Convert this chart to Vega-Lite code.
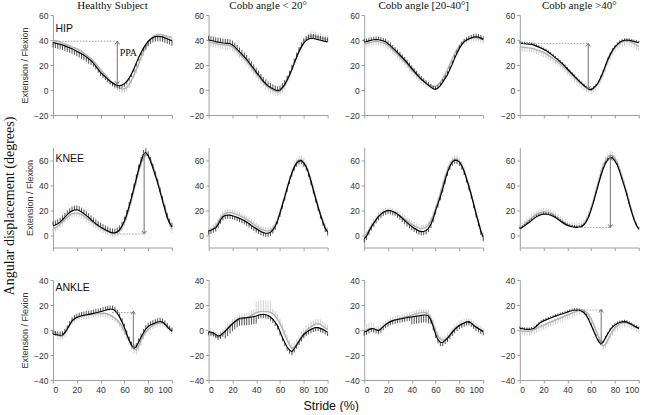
{
"$schema":"https://vega.github.io/schema/vega-lite/v6.json",
"padding":{"left":2,"right":0,"top":0,"bottom":0},
"background":"white",
"datasets":{
"lab":[
{"p":"H0","t":"HIP","lx":2,"ly":49,"f":"s"},
{"p":"H0","t":"PPA","lx":56,"ly":29.5,"f":"r"},
{"p":"K0","t":"KNEE","lx":2,"ly":61,"f":"s"},
{"p":"A0","t":"ANKLE","lx":2,"ly":34,"f":"s"}
],
"ann":[
{"p":"H0","xa":54,"top":39,"bot":4.5,"xd":0,"yd":39},
{"p":"H3","xa":57.5,"top":37.3,"bot":0.5,"xd":0,"yd":37.3},
{"p":"K0","xa":76.6,"top":66,"bot":0.8,"xd":49,"yd":0.8},
{"p":"K3","xa":76.1,"top":62,"bot":6,"xd":49,"yd":6},
{"p":"A0","xa":67.5,"top":15,"bot":-15,"xd":49.6,"yd":14},
{"p":"A3","xa":68.4,"top":16.5,"bot":-10.7,"xd":43.6,"yd":16}
],
"d":[
{"p":"H0","x":0,"b":38,"B":34,"g":40,"G":37},
{"p":"H0","x":2,"b":37.5,"B":33.5,"g":39.5,"G":36.5},
{"p":"H0","x":4,"b":37,"B":33,"g":39,"G":36},
{"p":"H0","x":6,"b":36.5,"B":32.5,"g":38.3,"G":35.3},
{"p":"H0","x":8,"b":36,"B":32,"g":37.5,"G":34.5},
{"p":"H0","x":10,"b":35.3,"B":31.3,"g":36.8,"G":33.8},
{"p":"H0","x":12,"b":34.5,"B":30.5,"g":36,"G":33},
{"p":"H0","x":14,"b":33.8,"B":29.8,"g":35.3,"G":32.3},
{"p":"H0","x":16,"b":33,"B":29,"g":34.5,"G":31.5},
{"p":"H0","x":18,"b":32,"B":28,"g":33.8,"G":30.8},
{"p":"H0","x":20,"b":31,"B":27,"g":33,"G":30},
{"p":"H0","x":22,"b":30,"B":26,"g":32,"G":29},
{"p":"H0","x":24,"b":29,"B":25,"g":31,"G":28},
{"p":"H0","x":26,"b":27.8,"B":23.8,"g":29.5,"G":26.5},
{"p":"H0","x":28,"b":26.5,"B":22.5,"g":28,"G":25},
{"p":"H0","x":30,"b":25,"B":21,"g":26.5,"G":23.5},
{"p":"H0","x":32,"b":23.5,"B":20,"g":25,"G":22},
{"p":"H0","x":34,"b":21.5,"B":18.5,"g":23,"G":20},
{"p":"H0","x":36,"b":19,"B":16.5,"g":21,"G":18},
{"p":"H0","x":38,"b":16.5,"B":14,"g":18.8,"G":15.8},
{"p":"H0","x":40,"b":14,"B":11.5,"g":16.5,"G":13.5},
{"p":"H0","x":42,"b":12.2,"B":9.7,"g":14.2,"G":11.2},
{"p":"H0","x":44,"b":10.5,"B":8,"g":12,"G":9},
{"p":"H0","x":46,"b":8.7,"B":6.2,"g":9.8,"G":6.8},
{"p":"H0","x":48,"b":7,"B":4.5,"g":7.5,"G":4.5},
{"p":"H0","x":50,"b":5.7,"B":3.2,"g":5.7,"G":2.7},
{"p":"H0","x":52,"b":4.5,"B":2,"g":4,"G":1},
{"p":"H0","x":54,"b":3.8,"B":1.3,"g":2.7,"G":-0.3},
{"p":"H0","x":56,"b":3.5,"B":1,"g":1.5,"G":-1.5},
{"p":"H0","x":58,"b":4,"B":1.5,"g":0.8,"G":-2.2},
{"p":"H0","x":60,"b":5,"B":2.5,"g":1,"G":-2},
{"p":"H0","x":62,"b":7,"B":4.5,"g":2,"G":-1},
{"p":"H0","x":64,"b":9.5,"B":7,"g":4.5,"G":1.5},
{"p":"H0","x":66,"b":13,"B":10.5,"g":8,"G":5},
{"p":"H0","x":68,"b":17,"B":14.5,"g":12,"G":9},
{"p":"H0","x":70,"b":21.5,"B":19,"g":16.5,"G":13.5},
{"p":"H0","x":72,"b":26,"B":23.5,"g":21,"G":18},
{"p":"H0","x":74,"b":30,"B":27.5,"g":26,"G":23},
{"p":"H0","x":76,"b":33.5,"B":31,"g":30.5,"G":27.5},
{"p":"H0","x":78,"b":36.5,"B":32.5,"g":34.5,"G":31.5},
{"p":"H0","x":80,"b":39,"B":35,"g":38,"G":35},
{"p":"H0","x":82,"b":40.8,"B":36.8,"g":40.5,"G":37.5},
{"p":"H0","x":84,"b":42,"B":38,"g":42.5,"G":39.5},
{"p":"H0","x":86,"b":42.7,"B":38.7,"g":43.8,"G":40.8},
{"p":"H0","x":88,"b":43,"B":39,"g":44.5,"G":41.5},
{"p":"H0","x":90,"b":42.8,"B":38.8,"g":44.5,"G":41.5},
{"p":"H0","x":92,"b":42.5,"B":38.5,"g":44,"G":41},
{"p":"H0","x":94,"b":41.8,"B":37.8,"g":43.5,"G":40.5},
{"p":"H0","x":96,"b":41,"B":37,"g":43,"G":40},
{"p":"H0","x":98,"b":40.2,"B":36.2,"g":42.5,"G":39.5},
{"p":"H0","x":100,"b":39.5,"B":35.5,"g":42,"G":39},
{"p":"H1","x":0,"b":40,"B":43.5,"g":38.5,"G":35},
{"p":"H1","x":2,"b":39.6,"B":43.1,"g":38,"G":34.5},
{"p":"H1","x":4,"b":39.2,"B":42.7,"g":37.6,"G":34.1},
{"p":"H1","x":6,"b":38.7,"B":42.2,"g":37.2,"G":33.7},
{"p":"H1","x":8,"b":38.3,"B":41.8,"g":36.8,"G":33.3},
{"p":"H1","x":10,"b":38,"B":41.5,"g":36.5,"G":33},
{"p":"H1","x":12,"b":37.6,"B":41.1,"g":36.2,"G":32.7},
{"p":"H1","x":14,"b":37.4,"B":40.9,"g":36,"G":32.5},
{"p":"H1","x":16,"b":37.3,"B":40.8,"g":35.8,"G":32.3},
{"p":"H1","x":18,"b":37,"B":40.5,"g":35.4,"G":31.9},
{"p":"H1","x":20,"b":36,"B":39.5,"g":34.5,"G":31},
{"p":"H1","x":22,"b":34.5,"B":38,"g":33,"G":29.5},
{"p":"H1","x":24,"b":32.5,"B":36,"g":31,"G":27.5},
{"p":"H1","x":26,"b":30.5,"B":34,"g":29,"G":25.5},
{"p":"H1","x":28,"b":28.5,"B":32,"g":27,"G":23.5},
{"p":"H1","x":30,"b":26.5,"B":30,"g":25,"G":21.5},
{"p":"H1","x":32,"b":24.5,"B":28,"g":23,"G":19.5},
{"p":"H1","x":34,"b":22,"B":25.5,"g":20.5,"G":17},
{"p":"H1","x":36,"b":19.5,"B":23,"g":18,"G":14.5},
{"p":"H1","x":38,"b":17,"B":20.5,"g":15.5,"G":12},
{"p":"H1","x":40,"b":14.3,"B":17.8,"g":13,"G":9.5},
{"p":"H1","x":42,"b":12,"B":15.5,"g":10.7,"G":7.2},
{"p":"H1","x":44,"b":9.5,"B":13,"g":8.3,"G":4.8},
{"p":"H1","x":46,"b":7,"B":10.5,"g":6,"G":2.5},
{"p":"H1","x":48,"b":5,"B":8.5,"g":4,"G":0.5},
{"p":"H1","x":50,"b":3.3,"B":6.8,"g":2.3,"G":-1.2},
{"p":"H1","x":52,"b":2,"B":5.5,"g":1,"G":-2.5},
{"p":"H1","x":54,"b":1,"B":4.5,"g":0,"G":-3.5},
{"p":"H1","x":56,"b":0,"B":3.5,"g":-1,"G":-4.5},
{"p":"H1","x":58,"b":-0.5,"B":3,"g":-1.5,"G":-5},
{"p":"H1","x":60,"b":0,"B":3.5,"g":-1,"G":-4.5},
{"p":"H1","x":62,"b":2,"B":5.5,"g":0.8,"G":-2.7},
{"p":"H1","x":64,"b":4.5,"B":8,"g":3.5,"G":0},
{"p":"H1","x":66,"b":8,"B":11.5,"g":7,"G":10.5},
{"p":"H1","x":68,"b":12,"B":15.5,"g":11.5,"G":15},
{"p":"H1","x":70,"b":16.5,"B":20,"g":16.5,"G":20},
{"p":"H1","x":72,"b":21.5,"B":25,"g":21.5,"G":25},
{"p":"H1","x":74,"b":26.3,"B":29.8,"g":26.5,"G":30},
{"p":"H1","x":76,"b":30.8,"B":34.3,"g":31,"G":34.5},
{"p":"H1","x":78,"b":34.5,"B":38,"g":35,"G":38.5},
{"p":"H1","x":80,"b":37.5,"B":41,"g":38.3,"G":41.8},
{"p":"H1","x":82,"b":39.5,"B":43,"g":40.8,"G":44.3},
{"p":"H1","x":84,"b":40.8,"B":44.3,"g":42.5,"G":46},
{"p":"H1","x":86,"b":41.4,"B":44.9,"g":43.3,"G":46.8},
{"p":"H1","x":88,"b":41.3,"B":44.8,"g":43.3,"G":46.8},
{"p":"H1","x":90,"b":40.8,"B":44.3,"g":42.8,"G":46.3},
{"p":"H1","x":92,"b":40.3,"B":43.8,"g":42.2,"G":45.7},
{"p":"H1","x":94,"b":39.8,"B":43.3,"g":41.7,"G":45.2},
{"p":"H1","x":96,"b":39.3,"B":42.8,"g":41.2,"G":44.7},
{"p":"H1","x":98,"b":38.9,"B":42.4,"g":40.8,"G":44.3},
{"p":"H1","x":100,"b":38.5,"B":42,"g":40.5,"G":44},
{"p":"H2","x":0,"b":38.5,"B":41,"g":37,"G":34},
{"p":"H2","x":2,"b":38.7,"B":41.2,"g":37.2,"G":34.2},
{"p":"H2","x":4,"b":39.3,"B":41.8,"g":37.8,"G":34.8},
{"p":"H2","x":6,"b":39.8,"B":42.3,"g":38.3,"G":35.3},
{"p":"H2","x":8,"b":40.2,"B":42.7,"g":38.7,"G":35.7},
{"p":"H2","x":10,"b":40.4,"B":42.9,"g":38.9,"G":35.9},
{"p":"H2","x":12,"b":40.2,"B":42.7,"g":38.7,"G":35.7},
{"p":"H2","x":14,"b":39.8,"B":42.3,"g":38.3,"G":35.3},
{"p":"H2","x":16,"b":39.2,"B":41.7,"g":37.7,"G":34.7},
{"p":"H2","x":18,"b":38.5,"B":41,"g":37,"G":34},
{"p":"H2","x":20,"b":37,"B":39.5,"g":35.5,"G":32.5},
{"p":"H2","x":22,"b":35.5,"B":38,"g":34,"G":31},
{"p":"H2","x":24,"b":33.5,"B":36,"g":32,"G":29},
{"p":"H2","x":26,"b":31.8,"B":34.3,"g":30.3,"G":27.3},
{"p":"H2","x":28,"b":30,"B":32.5,"g":28.5,"G":25.5},
{"p":"H2","x":30,"b":28,"B":30.5,"g":26.5,"G":23.5},
{"p":"H2","x":32,"b":26,"B":28.5,"g":24.5,"G":21.5},
{"p":"H2","x":34,"b":24,"B":26.5,"g":22.5,"G":19.5},
{"p":"H2","x":36,"b":21.8,"B":24.3,"g":20.3,"G":17.3},
{"p":"H2","x":38,"b":19.5,"B":22,"g":18,"G":15},
{"p":"H2","x":40,"b":17.2,"B":19.7,"g":15.8,"G":12.8},
{"p":"H2","x":42,"b":15,"B":17.5,"g":13.8,"G":10.8},
{"p":"H2","x":44,"b":12.8,"B":15.3,"g":11.8,"G":8.8},
{"p":"H2","x":46,"b":10.6,"B":13.1,"g":10,"G":7},
{"p":"H2","x":48,"b":8.6,"B":11.1,"g":8.3,"G":5.3},
{"p":"H2","x":50,"b":7,"B":9.5,"g":6.8,"G":3.8},
{"p":"H2","x":52,"b":5.3,"B":7.8,"g":5.5,"G":2.5},
{"p":"H2","x":54,"b":3.8,"B":6.3,"g":4.3,"G":1.3},
{"p":"H2","x":56,"b":2.3,"B":4.8,"g":3.4,"G":0.4},
{"p":"H2","x":58,"b":1,"B":3.5,"g":3,"G":0},
{"p":"H2","x":60,"b":0.6,"B":3.1,"g":3.2,"G":0.2},
{"p":"H2","x":62,"b":1.5,"B":4,"g":4.3,"G":1.3},
{"p":"H2","x":64,"b":3.5,"B":6,"g":6.3,"G":3.3},
{"p":"H2","x":66,"b":6.3,"B":8.8,"g":9.2,"G":6.2},
{"p":"H2","x":68,"b":9.3,"B":11.8,"g":12.5,"G":9.5},
{"p":"H2","x":70,"b":12.3,"B":14.8,"g":16.3,"G":13.3},
{"p":"H2","x":72,"b":16.5,"B":19,"g":20.5,"G":17.5},
{"p":"H2","x":74,"b":20.7,"B":23.2,"g":25,"G":22},
{"p":"H2","x":76,"b":25.3,"B":27.8,"g":29,"G":26},
{"p":"H2","x":78,"b":29.5,"B":32,"g":32.5,"G":29.5},
{"p":"H2","x":80,"b":33.3,"B":35.8,"g":35.3,"G":32.3},
{"p":"H2","x":82,"b":36.3,"B":38.8,"g":37.5,"G":34.5},
{"p":"H2","x":84,"b":38.5,"B":41,"g":39.2,"G":36.2},
{"p":"H2","x":86,"b":39.8,"B":42.3,"g":40.4,"G":37.4},
{"p":"H2","x":88,"b":40.8,"B":43.3,"g":41.3,"G":38.3},
{"p":"H2","x":90,"b":41.6,"B":44.1,"g":41.8,"G":38.8},
{"p":"H2","x":92,"b":42.3,"B":44.8,"g":42,"G":39},
{"p":"H2","x":94,"b":42.6,"B":45.1,"g":41.8,"G":38.8},
{"p":"H2","x":96,"b":42.3,"B":44.8,"g":41.3,"G":38.3},
{"p":"H2","x":98,"b":41.5,"B":44,"g":40.7,"G":37.7},
{"p":"H2","x":100,"b":40.5,"B":43,"g":40,"G":37},
{"p":"H3","x":0,"b":37.4,"B":38.9,"g":34.5,"G":31},
{"p":"H3","x":2,"b":37.3,"B":38.8,"g":34.3,"G":30.8},
{"p":"H3","x":4,"b":37.1,"B":38.6,"g":34.1,"G":30.6},
{"p":"H3","x":6,"b":36.9,"B":38.4,"g":33.9,"G":30.4},
{"p":"H3","x":8,"b":36.7,"B":38.2,"g":33.7,"G":30.2},
{"p":"H3","x":10,"b":36.5,"B":38,"g":33.4,"G":29.9},
{"p":"H3","x":12,"b":35.9,"B":37.4,"g":32.9,"G":29.4},
{"p":"H3","x":14,"b":35.1,"B":36.6,"g":32.3,"G":28.8},
{"p":"H3","x":16,"b":34.3,"B":35.8,"g":31.6,"G":28.1},
{"p":"H3","x":18,"b":33.4,"B":34.9,"g":30.8,"G":27.3},
{"p":"H3","x":20,"b":32.5,"B":34,"g":30,"G":26.5},
{"p":"H3","x":22,"b":31.5,"B":33,"g":29,"G":25.5},
{"p":"H3","x":24,"b":30.2,"B":31.7,"g":27.8,"G":24.3},
{"p":"H3","x":26,"b":28.8,"B":30.3,"g":26.5,"G":23},
{"p":"H3","x":28,"b":27.3,"B":28.8,"g":25.2,"G":21.7},
{"p":"H3","x":30,"b":25.7,"B":27.2,"g":23.8,"G":20.3},
{"p":"H3","x":32,"b":24.2,"B":25.7,"g":22.3,"G":18.8},
{"p":"H3","x":34,"b":22.5,"B":24,"g":20.8,"G":17.3},
{"p":"H3","x":36,"b":20.8,"B":22.3,"g":19.2,"G":15.7},
{"p":"H3","x":38,"b":18.9,"B":20.4,"g":17.5,"G":14},
{"p":"H3","x":40,"b":16.8,"B":18.3,"g":15.7,"G":12.2},
{"p":"H3","x":42,"b":14.8,"B":16.3,"g":13.9,"G":10.4},
{"p":"H3","x":44,"b":12.8,"B":14.3,"g":12,"G":8.5},
{"p":"H3","x":46,"b":10.8,"B":12.3,"g":10.1,"G":6.6},
{"p":"H3","x":48,"b":8.9,"B":10.4,"g":8.2,"G":4.7},
{"p":"H3","x":50,"b":7,"B":8.5,"g":6.3,"G":2.8},
{"p":"H3","x":52,"b":5.3,"B":6.8,"g":4.6,"G":1.1},
{"p":"H3","x":54,"b":3.6,"B":5.1,"g":3,"G":-0.5},
{"p":"H3","x":56,"b":2,"B":3.5,"g":1.7,"G":-1.8},
{"p":"H3","x":58,"b":0.5,"B":2,"g":0.7,"G":-2.8},
{"p":"H3","x":60,"b":0.2,"B":1.7,"g":0.6,"G":-2.9},
{"p":"H3","x":62,"b":1.5,"B":3,"g":1.5,"G":-2},
{"p":"H3","x":64,"b":3.5,"B":5,"g":3.2,"G":-0.3},
{"p":"H3","x":66,"b":6,"B":7.5,"g":5.6,"G":2.1},
{"p":"H3","x":68,"b":10,"B":11.5,"g":9,"G":5.5},
{"p":"H3","x":70,"b":14.5,"B":16,"g":13.3,"G":9.8},
{"p":"H3","x":72,"b":19.5,"B":21,"g":18.3,"G":14.8},
{"p":"H3","x":74,"b":24.5,"B":26,"g":23.3,"G":19.8},
{"p":"H3","x":76,"b":28.5,"B":30,"g":27.5,"G":24},
{"p":"H3","x":78,"b":32,"B":33.5,"g":31,"G":27.5},
{"p":"H3","x":80,"b":34.5,"B":36,"g":33.8,"G":30.3},
{"p":"H3","x":82,"b":36.5,"B":38,"g":35.8,"G":32.3},
{"p":"H3","x":84,"b":38.2,"B":39.7,"g":37.3,"G":33.8},
{"p":"H3","x":86,"b":39.2,"B":40.7,"g":38.3,"G":34.8},
{"p":"H3","x":88,"b":39.8,"B":41.3,"g":38.9,"G":35.4},
{"p":"H3","x":90,"b":40,"B":41.5,"g":39.1,"G":35.6},
{"p":"H3","x":92,"b":39.8,"B":41.3,"g":38.8,"G":35.3},
{"p":"H3","x":94,"b":39.3,"B":40.8,"g":38.1,"G":34.6},
{"p":"H3","x":96,"b":38.8,"B":40.3,"g":37.2,"G":33.7},
{"p":"H3","x":98,"b":38.3,"B":39.8,"g":36.1,"G":32.6},
{"p":"H3","x":100,"b":37.8,"B":39.3,"g":35,"G":31.5},
{"p":"K0","x":0,"b":7.5,"B":11,"g":5,"G":2},
{"p":"K0","x":2,"b":8,"B":11.5,"g":5.7,"G":2.7},
{"p":"K0","x":4,"b":9,"B":12.5,"g":7,"G":4},
{"p":"K0","x":6,"b":10.3,"B":13.8,"g":8.7,"G":5.7},
{"p":"K0","x":8,"b":12.2,"B":15.7,"g":10.6,"G":7.6},
{"p":"K0","x":10,"b":14.3,"B":17.8,"g":12.5,"G":9.5},
{"p":"K0","x":12,"b":16.3,"B":19.8,"g":14.3,"G":11.3},
{"p":"K0","x":14,"b":18,"B":21.5,"g":15.8,"G":12.8},
{"p":"K0","x":16,"b":19.3,"B":22.8,"g":16.9,"G":13.9},
{"p":"K0","x":18,"b":20,"B":23.5,"g":17.5,"G":14.5},
{"p":"K0","x":20,"b":20.2,"B":23.7,"g":17.6,"G":14.6},
{"p":"K0","x":22,"b":19.6,"B":23.1,"g":17.2,"G":14.2},
{"p":"K0","x":24,"b":18.4,"B":21.9,"g":16.3,"G":13.3},
{"p":"K0","x":26,"b":17,"B":20.5,"g":15.1,"G":12.1},
{"p":"K0","x":28,"b":15.5,"B":19,"g":13.8,"G":10.8},
{"p":"K0","x":30,"b":14,"B":17.5,"g":12.4,"G":9.4},
{"p":"K0","x":32,"b":12.2,"B":15.7,"g":11,"G":8},
{"p":"K0","x":34,"b":10.5,"B":14,"g":9.6,"G":6.6},
{"p":"K0","x":36,"b":9,"B":12.5,"g":8.2,"G":5.2},
{"p":"K0","x":38,"b":7.6,"B":11.1,"g":6.9,"G":3.9},
{"p":"K0","x":40,"b":6.4,"B":9.9,"g":5.7,"G":2.7},
{"p":"K0","x":42,"b":5.2,"B":8.7,"g":4.6,"G":1.6},
{"p":"K0","x":44,"b":4.2,"B":7.7,"g":3.6,"G":0.6},
{"p":"K0","x":46,"b":3.2,"B":6.7,"g":2.7,"G":-0.3},
{"p":"K0","x":48,"b":2.3,"B":5.8,"g":1.9,"G":-1.1},
{"p":"K0","x":50,"b":1.7,"B":5.2,"g":1.4,"G":-1.6},
{"p":"K0","x":52,"b":1.7,"B":5.2,"g":1.3,"G":-1.7},
{"p":"K0","x":54,"b":2.5,"B":6,"g":2,"G":-1},
{"p":"K0","x":56,"b":4.2,"B":7.7,"g":3.5,"G":0.5},
{"p":"K0","x":58,"b":7.2,"B":10.7,"g":6.2,"G":3.2},
{"p":"K0","x":60,"b":11.2,"B":14.7,"g":10,"G":7},
{"p":"K0","x":62,"b":16.5,"B":20,"g":15,"G":12},
{"p":"K0","x":64,"b":23,"B":26.5,"g":21.3,"G":18.3},
{"p":"K0","x":66,"b":30,"B":33.5,"g":28.3,"G":25.3},
{"p":"K0","x":68,"b":37.5,"B":41,"g":35.8,"G":32.8},
{"p":"K0","x":70,"b":45,"B":48.5,"g":43.5,"G":40.5},
{"p":"K0","x":72,"b":52.8,"B":56.3,"g":51,"G":48},
{"p":"K0","x":74,"b":59,"B":62.5,"g":57.3,"G":54.3},
{"p":"K0","x":76,"b":64.5,"B":68,"g":62,"G":59},
{"p":"K0","x":78,"b":66,"B":69.5,"g":64.3,"G":61.3},
{"p":"K0","x":80,"b":63.5,"B":67,"g":63.5,"G":60.5},
{"p":"K0","x":82,"b":59,"B":62.5,"g":60,"G":57},
{"p":"K0","x":84,"b":53.5,"B":57,"g":55,"G":52},
{"p":"K0","x":86,"b":47.5,"B":51,"g":49,"G":46},
{"p":"K0","x":88,"b":41.5,"B":45,"g":42.8,"G":39.8},
{"p":"K0","x":90,"b":34.5,"B":38,"g":36,"G":33},
{"p":"K0","x":92,"b":27.5,"B":31,"g":29,"G":26},
{"p":"K0","x":94,"b":20.5,"B":24,"g":22,"G":19},
{"p":"K0","x":96,"b":14,"B":17.5,"g":15.3,"G":12.3},
{"p":"K0","x":98,"b":9.5,"B":13,"g":9.5,"G":6.5},
{"p":"K0","x":100,"b":6.5,"B":10,"g":4.5,"G":1.5},
{"p":"K1","x":0,"b":3.3,"B":0.3,"g":3.5,"G":6.5},
{"p":"K1","x":2,"b":3.8,"B":0.8,"g":4.3,"G":7.3},
{"p":"K1","x":4,"b":4.8,"B":1.8,"g":5.5,"G":8.5},
{"p":"K1","x":6,"b":5.8,"B":2.8,"g":7.3,"G":10.3},
{"p":"K1","x":8,"b":8.5,"B":5.5,"g":10.3,"G":13.3},
{"p":"K1","x":10,"b":12,"B":9,"g":13.5,"G":16.5},
{"p":"K1","x":12,"b":14.7,"B":11.7,"g":16,"G":19},
{"p":"K1","x":14,"b":15.7,"B":12.7,"g":17.4,"G":20.4},
{"p":"K1","x":16,"b":16,"B":13,"g":18,"G":21},
{"p":"K1","x":18,"b":15.9,"B":12.9,"g":18,"G":21},
{"p":"K1","x":20,"b":15.4,"B":12.4,"g":17.6,"G":20.6},
{"p":"K1","x":22,"b":14.8,"B":11.8,"g":17,"G":20},
{"p":"K1","x":24,"b":14.1,"B":11.1,"g":16.3,"G":19.3},
{"p":"K1","x":26,"b":13.3,"B":10.3,"g":15.5,"G":18.5},
{"p":"K1","x":28,"b":12.4,"B":9.4,"g":14.6,"G":17.6},
{"p":"K1","x":30,"b":11.5,"B":8.5,"g":13.6,"G":16.6},
{"p":"K1","x":32,"b":10.3,"B":7.3,"g":12.4,"G":15.4},
{"p":"K1","x":34,"b":9,"B":6,"g":11.1,"G":14.1},
{"p":"K1","x":36,"b":7.6,"B":4.6,"g":9.7,"G":12.7},
{"p":"K1","x":38,"b":6.3,"B":3.3,"g":8.4,"G":11.4},
{"p":"K1","x":40,"b":5.1,"B":2.1,"g":7.1,"G":10.1},
{"p":"K1","x":42,"b":3.9,"B":0.9,"g":5.9,"G":8.9},
{"p":"K1","x":44,"b":2.8,"B":-0.2,"g":4.8,"G":7.8},
{"p":"K1","x":46,"b":1.9,"B":-1.1,"g":3.9,"G":6.9},
{"p":"K1","x":48,"b":1.4,"B":-1.6,"g":3.3,"G":6.3},
{"p":"K1","x":50,"b":1.4,"B":-1.6,"g":3.2,"G":6.2},
{"p":"K1","x":52,"b":2.2,"B":-0.8,"g":3.8,"G":6.8},
{"p":"K1","x":54,"b":4,"B":1,"g":5.3,"G":8.3},
{"p":"K1","x":56,"b":7,"B":4,"g":8,"G":11},
{"p":"K1","x":58,"b":11.5,"B":8.5,"g":12.3,"G":15.3},
{"p":"K1","x":60,"b":17.5,"B":14.5,"g":18,"G":21},
{"p":"K1","x":62,"b":24,"B":21,"g":24.5,"G":27.5},
{"p":"K1","x":64,"b":30.5,"B":27.5,"g":31,"G":34},
{"p":"K1","x":66,"b":37.3,"B":34.3,"g":37.8,"G":40.8},
{"p":"K1","x":68,"b":43.8,"B":40.8,"g":44.3,"G":47.3},
{"p":"K1","x":70,"b":49.6,"B":46.6,"g":50.2,"G":53.2},
{"p":"K1","x":72,"b":54.3,"B":51.3,"g":55,"G":58},
{"p":"K1","x":74,"b":57.6,"B":54.6,"g":58.4,"G":61.4},
{"p":"K1","x":76,"b":59.3,"B":56.3,"g":60.2,"G":63.2},
{"p":"K1","x":78,"b":59.5,"B":56.5,"g":60.5,"G":63.5},
{"p":"K1","x":80,"b":57.5,"B":54.5,"g":58.5,"G":61.5},
{"p":"K1","x":82,"b":54.5,"B":51.5,"g":55.3,"G":58.3},
{"p":"K1","x":84,"b":49.5,"B":46.5,"g":50.3,"G":53.3},
{"p":"K1","x":86,"b":43,"B":40,"g":43.8,"G":46.8},
{"p":"K1","x":88,"b":36,"B":33,"g":36.8,"G":39.8},
{"p":"K1","x":90,"b":29,"B":26,"g":29.8,"G":32.8},
{"p":"K1","x":92,"b":22.3,"B":19.3,"g":23,"G":26},
{"p":"K1","x":94,"b":16,"B":13,"g":16.7,"G":19.7},
{"p":"K1","x":96,"b":10.5,"B":7.5,"g":11.2,"G":14.2},
{"p":"K1","x":98,"b":5.3,"B":2.3,"g":6.3,"G":9.3},
{"p":"K1","x":100,"b":2.5,"B":-0.5,"g":3.5,"G":6.5},
{"p":"K2","x":0,"b":-3,"B":-6,"g":-1.5,"G":1.5},
{"p":"K2","x":2,"b":-1,"B":-4,"g":0.5,"G":3.5},
{"p":"K2","x":4,"b":3,"B":0,"g":3.8,"G":6.8},
{"p":"K2","x":6,"b":6.5,"B":3.5,"g":7,"G":10},
{"p":"K2","x":8,"b":9.5,"B":6.5,"g":10,"G":13},
{"p":"K2","x":10,"b":12.3,"B":9.3,"g":12.6,"G":15.6},
{"p":"K2","x":12,"b":14.8,"B":11.8,"g":14.8,"G":17.8},
{"p":"K2","x":14,"b":16.7,"B":13.7,"g":16.5,"G":19.5},
{"p":"K2","x":16,"b":18.2,"B":15.2,"g":17.8,"G":20.8},
{"p":"K2","x":18,"b":19.2,"B":16.2,"g":18.6,"G":21.6},
{"p":"K2","x":20,"b":19.8,"B":16.8,"g":19,"G":22},
{"p":"K2","x":22,"b":19.6,"B":16.6,"g":19,"G":22},
{"p":"K2","x":24,"b":18.8,"B":15.8,"g":18.5,"G":21.5},
{"p":"K2","x":26,"b":18,"B":15,"g":17.8,"G":20.8},
{"p":"K2","x":28,"b":16.7,"B":13.7,"g":16.8,"G":19.8},
{"p":"K2","x":30,"b":15.2,"B":12.2,"g":15.6,"G":18.6},
{"p":"K2","x":32,"b":13.4,"B":10.4,"g":14.2,"G":17.2},
{"p":"K2","x":34,"b":11.6,"B":8.6,"g":12.8,"G":15.8},
{"p":"K2","x":36,"b":9.9,"B":6.9,"g":11.3,"G":14.3},
{"p":"K2","x":38,"b":8.3,"B":5.3,"g":9.9,"G":12.9},
{"p":"K2","x":40,"b":6.8,"B":3.8,"g":8.6,"G":11.6},
{"p":"K2","x":42,"b":5.5,"B":2.5,"g":7.4,"G":10.4},
{"p":"K2","x":44,"b":4.3,"B":1.3,"g":6.3,"G":9.3},
{"p":"K2","x":46,"b":3.3,"B":0.3,"g":5.5,"G":8.5},
{"p":"K2","x":48,"b":2.7,"B":-0.3,"g":5.1,"G":8.1},
{"p":"K2","x":50,"b":2.8,"B":-0.2,"g":5.3,"G":8.3},
{"p":"K2","x":52,"b":3.6,"B":0.6,"g":6.3,"G":9.3},
{"p":"K2","x":54,"b":5.3,"B":2.3,"g":8.2,"G":11.2},
{"p":"K2","x":56,"b":8.5,"B":5.5,"g":11.3,"G":14.3},
{"p":"K2","x":58,"b":13.2,"B":10.2,"g":15.6,"G":18.6},
{"p":"K2","x":60,"b":19.5,"B":16.5,"g":21,"G":24},
{"p":"K2","x":62,"b":25,"B":22,"g":27,"G":30},
{"p":"K2","x":64,"b":30.8,"B":27.8,"g":33.5,"G":36.5},
{"p":"K2","x":66,"b":37,"B":34,"g":40,"G":43},
{"p":"K2","x":68,"b":44,"B":41,"g":46.5,"G":49.5},
{"p":"K2","x":70,"b":50.3,"B":47.3,"g":52,"G":55},
{"p":"K2","x":72,"b":55,"B":52,"g":56.5,"G":59.5},
{"p":"K2","x":74,"b":58.3,"B":55.3,"g":59.5,"G":62.5},
{"p":"K2","x":76,"b":59.9,"B":56.9,"g":61,"G":64},
{"p":"K2","x":78,"b":59.7,"B":56.7,"g":60.8,"G":63.8},
{"p":"K2","x":80,"b":58.3,"B":55.3,"g":59,"G":62},
{"p":"K2","x":82,"b":55.3,"B":52.3,"g":56,"G":59},
{"p":"K2","x":84,"b":51,"B":48,"g":51.3,"G":54.3},
{"p":"K2","x":86,"b":45,"B":42,"g":45.3,"G":48.3},
{"p":"K2","x":88,"b":38.8,"B":35.8,"g":38.8,"G":41.8},
{"p":"K2","x":90,"b":32,"B":29,"g":32,"G":35},
{"p":"K2","x":92,"b":24.5,"B":21.5,"g":24.8,"G":27.8},
{"p":"K2","x":94,"b":17,"B":14,"g":17.5,"G":20.5},
{"p":"K2","x":96,"b":10,"B":7,"g":10.5,"G":13.5},
{"p":"K2","x":98,"b":3,"B":0,"g":4,"G":7},
{"p":"K2","x":100,"b":-2,"B":-5,"g":-1,"G":2},
{"p":"K3","x":0,"b":5,"B":6.5,"g":5.5,"G":8.5},
{"p":"K3","x":2,"b":6,"B":7.5,"g":6.8,"G":9.8},
{"p":"K3","x":4,"b":7.3,"B":8.8,"g":8.5,"G":11.5},
{"p":"K3","x":6,"b":8.8,"B":10.3,"g":10.3,"G":13.3},
{"p":"K3","x":8,"b":10.2,"B":11.7,"g":12.1,"G":15.1},
{"p":"K3","x":10,"b":11.8,"B":13.3,"g":13.8,"G":16.8},
{"p":"K3","x":12,"b":13.3,"B":14.8,"g":15.3,"G":18.3},
{"p":"K3","x":14,"b":14.6,"B":16.1,"g":16.6,"G":19.6},
{"p":"K3","x":16,"b":15.6,"B":17.1,"g":17.6,"G":20.6},
{"p":"K3","x":18,"b":16.3,"B":17.8,"g":18.3,"G":21.3},
{"p":"K3","x":20,"b":16.7,"B":18.2,"g":18.6,"G":21.6},
{"p":"K3","x":22,"b":16.7,"B":18.2,"g":18.5,"G":21.5},
{"p":"K3","x":24,"b":16.4,"B":17.9,"g":18.1,"G":21.1},
{"p":"K3","x":26,"b":15.8,"B":17.3,"g":17.4,"G":20.4},
{"p":"K3","x":28,"b":15,"B":16.5,"g":16.4,"G":19.4},
{"p":"K3","x":30,"b":13.9,"B":15.4,"g":15.2,"G":18.2},
{"p":"K3","x":32,"b":12.6,"B":14.1,"g":13.8,"G":16.8},
{"p":"K3","x":34,"b":11.2,"B":12.7,"g":12.3,"G":15.3},
{"p":"K3","x":36,"b":9.9,"B":11.4,"g":10.9,"G":13.9},
{"p":"K3","x":38,"b":8.7,"B":10.2,"g":9.6,"G":12.6},
{"p":"K3","x":40,"b":7.7,"B":9.2,"g":8.5,"G":11.5},
{"p":"K3","x":42,"b":7,"B":8.5,"g":7.6,"G":10.6},
{"p":"K3","x":44,"b":6.6,"B":8.1,"g":7,"G":10},
{"p":"K3","x":46,"b":6.3,"B":7.8,"g":6.6,"G":9.6},
{"p":"K3","x":48,"b":6.1,"B":7.6,"g":6.5,"G":9.5},
{"p":"K3","x":50,"b":6.2,"B":7.7,"g":6.7,"G":9.7},
{"p":"K3","x":52,"b":6.8,"B":8.3,"g":7.4,"G":10.4},
{"p":"K3","x":54,"b":8.2,"B":9.7,"g":9,"G":12},
{"p":"K3","x":56,"b":10.8,"B":12.3,"g":11.8,"G":14.8},
{"p":"K3","x":58,"b":14.8,"B":16.3,"g":16,"G":19},
{"p":"K3","x":60,"b":20.3,"B":21.8,"g":21.8,"G":24.8},
{"p":"K3","x":62,"b":26.5,"B":28,"g":28.3,"G":31.3},
{"p":"K3","x":64,"b":33.3,"B":34.8,"g":35.3,"G":38.3},
{"p":"K3","x":66,"b":40.3,"B":41.8,"g":42.5,"G":45.5},
{"p":"K3","x":68,"b":47,"B":48.5,"g":49.3,"G":52.3},
{"p":"K3","x":70,"b":52.8,"B":54.3,"g":55,"G":58},
{"p":"K3","x":72,"b":57.3,"B":58.8,"g":59.5,"G":62.5},
{"p":"K3","x":74,"b":60.3,"B":61.8,"g":62.5,"G":65.5},
{"p":"K3","x":76,"b":61.9,"B":63.4,"g":64,"G":67},
{"p":"K3","x":78,"b":61.5,"B":63,"g":63.6,"G":66.6},
{"p":"K3","x":80,"b":59,"B":60.5,"g":61,"G":64},
{"p":"K3","x":82,"b":55.8,"B":57.3,"g":57.5,"G":60.5},
{"p":"K3","x":84,"b":50.5,"B":52,"g":52.3,"G":55.3},
{"p":"K3","x":86,"b":44.5,"B":46,"g":46.3,"G":49.3},
{"p":"K3","x":88,"b":38.5,"B":40,"g":40,"G":43},
{"p":"K3","x":90,"b":32,"B":33.5,"g":33.3,"G":36.3},
{"p":"K3","x":92,"b":25,"B":26.5,"g":26,"G":29},
{"p":"K3","x":94,"b":18.3,"B":19.8,"g":19,"G":22},
{"p":"K3","x":96,"b":12.3,"B":13.8,"g":12.7,"G":15.7},
{"p":"K3","x":98,"b":7.8,"B":9.3,"g":7.8,"G":10.8},
{"p":"K3","x":100,"b":4.8,"B":6.3,"g":4,"G":7},
{"p":"A0","x":0,"b":-3.2,"B":-0.2,"g":0,"G":-3},
{"p":"A0","x":2,"b":-3.7,"B":-0.7,"g":-2,"G":-5},
{"p":"A0","x":4,"b":-4,"B":-1,"g":-4,"G":-7},
{"p":"A0","x":6,"b":-4.2,"B":-1.2,"g":-5,"G":-8},
{"p":"A0","x":8,"b":-4,"B":-1,"g":-4.8,"G":-7.8},
{"p":"A0","x":10,"b":-2,"B":1,"g":-2.5,"G":-5.5},
{"p":"A0","x":12,"b":0.8,"B":3.8,"g":1,"G":-2},
{"p":"A0","x":14,"b":4,"B":7,"g":4.5,"G":1.5},
{"p":"A0","x":16,"b":7.2,"B":10.2,"g":7.2,"G":4.2},
{"p":"A0","x":18,"b":9,"B":12,"g":8.8,"G":5.8},
{"p":"A0","x":20,"b":10,"B":13,"g":9.8,"G":6.8},
{"p":"A0","x":22,"b":10.8,"B":13.8,"g":10.5,"G":7.5},
{"p":"A0","x":24,"b":11.4,"B":14.4,"g":11,"G":8},
{"p":"A0","x":26,"b":11.8,"B":14.8,"g":11.4,"G":8.4},
{"p":"A0","x":28,"b":12.2,"B":15.2,"g":11.8,"G":8.8},
{"p":"A0","x":30,"b":12.5,"B":15.5,"g":12.1,"G":9.1},
{"p":"A0","x":32,"b":12.9,"B":15.9,"g":12.4,"G":9.4},
{"p":"A0","x":34,"b":13.3,"B":16.3,"g":12.7,"G":9.7},
{"p":"A0","x":36,"b":13.8,"B":16.8,"g":12.9,"G":9.9},
{"p":"A0","x":38,"b":14.2,"B":17.2,"g":13.1,"G":10.1},
{"p":"A0","x":40,"b":14.7,"B":17.7,"g":13.2,"G":10.2},
{"p":"A0","x":42,"b":15.2,"B":18.2,"g":13.3,"G":10.3},
{"p":"A0","x":44,"b":15.8,"B":18.8,"g":13.2,"G":10.2},
{"p":"A0","x":46,"b":16.3,"B":19.3,"g":12.8,"G":9.8},
{"p":"A0","x":48,"b":16.6,"B":19.6,"g":12,"G":9},
{"p":"A0","x":50,"b":16.6,"B":19.6,"g":11,"G":8},
{"p":"A0","x":52,"b":15.6,"B":18.6,"g":9.6,"G":6.6},
{"p":"A0","x":54,"b":13.3,"B":16.3,"g":7.8,"G":4.8},
{"p":"A0","x":56,"b":10.3,"B":13.3,"g":5.6,"G":2.6},
{"p":"A0","x":58,"b":6.5,"B":9.5,"g":2.5,"G":-0.5},
{"p":"A0","x":60,"b":2,"B":5,"g":-1,"G":-4},
{"p":"A0","x":62,"b":-3.3,"B":-0.3,"g":-4.5,"G":-7.5},
{"p":"A0","x":64,"b":-8.3,"B":-5.3,"g":-8.3,"G":-12.3},
{"p":"A0","x":66,"b":-12.3,"B":-9.3,"g":-12,"G":-16},
{"p":"A0","x":68,"b":-14.6,"B":-11.6,"g":-15,"G":-19},
{"p":"A0","x":70,"b":-13.5,"B":-10.5,"g":-15.8,"G":-19.8},
{"p":"A0","x":72,"b":-9.6,"B":-6.6,"g":-13,"G":-17},
{"p":"A0","x":74,"b":-5.8,"B":-2.8,"g":-8.5,"G":-12.5},
{"p":"A0","x":76,"b":-2.3,"B":0.7,"g":-4.5,"G":-7.5},
{"p":"A0","x":78,"b":0.9,"B":3.9,"g":-1.5,"G":-4.5},
{"p":"A0","x":80,"b":2.8,"B":5.8,"g":0.6,"G":-2.4},
{"p":"A0","x":82,"b":4,"B":7,"g":2.2,"G":-0.8},
{"p":"A0","x":84,"b":4.9,"B":7.9,"g":3.5,"G":0.5},
{"p":"A0","x":86,"b":5.7,"B":8.7,"g":4.5,"G":1.5},
{"p":"A0","x":88,"b":6.4,"B":9.4,"g":5.2,"G":2.2},
{"p":"A0","x":90,"b":6.8,"B":9.8,"g":5.7,"G":2.7},
{"p":"A0","x":92,"b":6.3,"B":9.3,"g":5.8,"G":2.8},
{"p":"A0","x":94,"b":4.7,"B":7.7,"g":4.8,"G":1.8},
{"p":"A0","x":96,"b":2.5,"B":5.5,"g":3.3,"G":0.3},
{"p":"A0","x":98,"b":0.5,"B":3.5,"g":1.6,"G":-1.4},
{"p":"A0","x":100,"b":-1,"B":2,"g":0,"G":-3},
{"p":"A1","x":0,"b":-1.3,"B":-4.3,"g":-2,"G":2},
{"p":"A1","x":2,"b":-1.8,"B":-4.8,"g":-2.5,"G":1.5},
{"p":"A1","x":4,"b":-2.3,"B":-5.3,"g":-3.5,"G":0.5},
{"p":"A1","x":6,"b":-3.5,"B":-6.5,"g":-5,"G":-1},
{"p":"A1","x":8,"b":-4.9,"B":-7.9,"g":-6,"G":-2},
{"p":"A1","x":10,"b":-4.2,"B":-7.2,"g":-5,"G":-1},
{"p":"A1","x":12,"b":-2.5,"B":-5.5,"g":-3.2,"G":0.8},
{"p":"A1","x":14,"b":-0.8,"B":-6.8,"g":-1.2,"G":2.8},
{"p":"A1","x":16,"b":1.2,"B":-4.8,"g":1,"G":5},
{"p":"A1","x":18,"b":3.2,"B":-2.8,"g":3,"G":7},
{"p":"A1","x":20,"b":5,"B":-1,"g":4.8,"G":8.8},
{"p":"A1","x":22,"b":6.6,"B":0.6,"g":6.3,"G":10.3},
{"p":"A1","x":24,"b":8.2,"B":2.2,"g":7.6,"G":11.6},
{"p":"A1","x":26,"b":9.4,"B":3.4,"g":8.5,"G":12.5},
{"p":"A1","x":28,"b":9.6,"B":3.6,"g":9,"G":13},
{"p":"A1","x":30,"b":9.7,"B":3.7,"g":9.3,"G":13.3},
{"p":"A1","x":32,"b":9.8,"B":3.8,"g":9.8,"G":13.8},
{"p":"A1","x":34,"b":10.1,"B":4.1,"g":10.5,"G":14.5},
{"p":"A1","x":36,"b":10.4,"B":4.4,"g":11.5,"G":15.5},
{"p":"A1","x":38,"b":10.7,"B":4.7,"g":12.8,"G":16.8},
{"p":"A1","x":40,"b":11.2,"B":5.2,"g":13.8,"G":22.8},
{"p":"A1","x":42,"b":11.9,"B":8.9,"g":14.4,"G":23.4},
{"p":"A1","x":44,"b":12.4,"B":9.4,"g":14.7,"G":23.7},
{"p":"A1","x":46,"b":12.5,"B":9.5,"g":14.8,"G":23.8},
{"p":"A1","x":48,"b":12.2,"B":9.2,"g":14.7,"G":23.7},
{"p":"A1","x":50,"b":11.6,"B":8.6,"g":14.5,"G":23.5},
{"p":"A1","x":52,"b":10.4,"B":7.4,"g":14,"G":23},
{"p":"A1","x":54,"b":8.6,"B":5.6,"g":13,"G":17},
{"p":"A1","x":56,"b":6.2,"B":3.2,"g":11.2,"G":15.2},
{"p":"A1","x":58,"b":3.3,"B":0.3,"g":8.5,"G":12.5},
{"p":"A1","x":60,"b":-1.3,"B":-4.3,"g":5,"G":9},
{"p":"A1","x":62,"b":-6,"B":-9,"g":1,"G":5},
{"p":"A1","x":64,"b":-10,"B":-13,"g":-3.5,"G":0.5},
{"p":"A1","x":66,"b":-13.6,"B":-16.6,"g":-8,"G":-4},
{"p":"A1","x":68,"b":-16,"B":-19,"g":-12,"G":-8},
{"p":"A1","x":70,"b":-17.3,"B":-20.3,"g":-14.5,"G":-10.5},
{"p":"A1","x":72,"b":-15,"B":-18,"g":-14,"G":-10},
{"p":"A1","x":74,"b":-12,"B":-15,"g":-11.3,"G":-7.3},
{"p":"A1","x":76,"b":-9,"B":-12,"g":-8.3,"G":-4.3},
{"p":"A1","x":78,"b":-6.2,"B":-9.2,"g":-5.3,"G":-1.3},
{"p":"A1","x":80,"b":-3.6,"B":-6.6,"g":-2.8,"G":1.2},
{"p":"A1","x":82,"b":-2,"B":-5,"g":-0.7,"G":3.3},
{"p":"A1","x":84,"b":-0.6,"B":-3.6,"g":1,"G":5},
{"p":"A1","x":86,"b":0.5,"B":-2.5,"g":2.5,"G":6.5},
{"p":"A1","x":88,"b":1.4,"B":-1.6,"g":3.8,"G":7.8},
{"p":"A1","x":90,"b":2,"B":-1,"g":4.7,"G":8.7},
{"p":"A1","x":92,"b":1.9,"B":-1.1,"g":5,"G":9},
{"p":"A1","x":94,"b":1.3,"B":-1.7,"g":4.5,"G":8.5},
{"p":"A1","x":96,"b":0.5,"B":-2.5,"g":3.2,"G":7.2},
{"p":"A1","x":98,"b":-0.6,"B":-3.6,"g":1.6,"G":5.6},
{"p":"A1","x":100,"b":-1.8,"B":-4.8,"g":0.3,"G":4.3},
{"p":"A2","x":0,"b":-1.5,"B":-4.5,"g":-0.5,"G":4.5},
{"p":"A2","x":2,"b":-1,"B":-4,"g":0,"G":5},
{"p":"A2","x":4,"b":0.3,"B":-2.7,"g":0.8,"G":5.8},
{"p":"A2","x":6,"b":1.2,"B":-1.8,"g":1.2,"G":6.2},
{"p":"A2","x":8,"b":1,"B":-2,"g":0.8,"G":5.8},
{"p":"A2","x":10,"b":0.2,"B":-2.8,"g":0,"G":3},
{"p":"A2","x":12,"b":-0.4,"B":-3.4,"g":0,"G":3},
{"p":"A2","x":14,"b":0.8,"B":-2.2,"g":1.3,"G":4.3},
{"p":"A2","x":16,"b":2.7,"B":-0.3,"g":3,"G":6},
{"p":"A2","x":18,"b":4.3,"B":1.3,"g":4.5,"G":7.5},
{"p":"A2","x":20,"b":5.6,"B":2.6,"g":5.8,"G":8.8},
{"p":"A2","x":22,"b":6.7,"B":3.7,"g":6.8,"G":9.8},
{"p":"A2","x":24,"b":7.5,"B":4.5,"g":7.6,"G":10.6},
{"p":"A2","x":26,"b":8,"B":5,"g":8.2,"G":11.2},
{"p":"A2","x":28,"b":8.4,"B":5.4,"g":8.7,"G":11.7},
{"p":"A2","x":30,"b":8.8,"B":5.8,"g":9.2,"G":12.2},
{"p":"A2","x":32,"b":9.2,"B":6.2,"g":9.7,"G":12.7},
{"p":"A2","x":34,"b":9.6,"B":6.6,"g":10.2,"G":13.2},
{"p":"A2","x":36,"b":10,"B":7,"g":10.7,"G":13.7},
{"p":"A2","x":38,"b":10.3,"B":7.3,"g":11.2,"G":14.2},
{"p":"A2","x":40,"b":10.5,"B":4.5,"g":11.8,"G":14.8},
{"p":"A2","x":42,"b":10.8,"B":4.8,"g":12.4,"G":15.4},
{"p":"A2","x":44,"b":11.1,"B":5.1,"g":13,"G":16},
{"p":"A2","x":46,"b":11.4,"B":5.4,"g":13.5,"G":16.5},
{"p":"A2","x":48,"b":11.7,"B":5.7,"g":13.9,"G":16.9},
{"p":"A2","x":50,"b":12,"B":6,"g":14,"G":17},
{"p":"A2","x":52,"b":12,"B":6,"g":13.8,"G":16.8},
{"p":"A2","x":54,"b":11.2,"B":5.2,"g":12.6,"G":15.6},
{"p":"A2","x":56,"b":8,"B":5,"g":9.5,"G":12.5},
{"p":"A2","x":58,"b":2.7,"B":-0.3,"g":5,"G":8},
{"p":"A2","x":60,"b":-3.3,"B":-6.3,"g":-0.5,"G":2.5},
{"p":"A2","x":62,"b":-7.7,"B":-10.7,"g":-4.8,"G":-1.8},
{"p":"A2","x":64,"b":-10,"B":-13,"g":-7.5,"G":-4.5},
{"p":"A2","x":66,"b":-9.9,"B":-12.9,"g":-8.2,"G":-5.2},
{"p":"A2","x":68,"b":-8.3,"B":-11.3,"g":-7.5,"G":-4.5},
{"p":"A2","x":70,"b":-6.6,"B":-9.6,"g":-5.8,"G":-2.8},
{"p":"A2","x":72,"b":-4.3,"B":-7.3,"g":-3.5,"G":-0.5},
{"p":"A2","x":74,"b":-1.8,"B":-4.8,"g":-1.2,"G":1.8},
{"p":"A2","x":76,"b":0.4,"B":-2.6,"g":1,"G":4},
{"p":"A2","x":78,"b":2.2,"B":-0.8,"g":2.8,"G":5.8},
{"p":"A2","x":80,"b":3.6,"B":0.6,"g":4,"G":7},
{"p":"A2","x":82,"b":4.7,"B":1.7,"g":4.9,"G":7.9},
{"p":"A2","x":84,"b":5.6,"B":2.6,"g":5.7,"G":8.7},
{"p":"A2","x":86,"b":6.5,"B":3.5,"g":6.3,"G":9.3},
{"p":"A2","x":88,"b":6.7,"B":3.7,"g":6.5,"G":9.5},
{"p":"A2","x":90,"b":5.5,"B":2.5,"g":5.7,"G":8.7},
{"p":"A2","x":92,"b":3.6,"B":0.6,"g":4.2,"G":7.2},
{"p":"A2","x":94,"b":2.3,"B":-0.7,"g":2.8,"G":5.8},
{"p":"A2","x":96,"b":1.2,"B":-1.8,"g":1.5,"G":4.5},
{"p":"A2","x":98,"b":-0.1,"B":-3.1,"g":0.3,"G":3.3},
{"p":"A2","x":100,"b":-1.3,"B":-4.3,"g":-1,"G":2},
{"p":"A3","x":0,"b":1.3,"B":2.8,"g":-0.5,"G":-4},
{"p":"A3","x":2,"b":1,"B":2.5,"g":-0.8,"G":-4.3},
{"p":"A3","x":4,"b":0.7,"B":2.2,"g":-1,"G":-4.5},
{"p":"A3","x":6,"b":0.5,"B":2,"g":-1,"G":-4.5},
{"p":"A3","x":8,"b":0.5,"B":2,"g":-1,"G":-4.5},
{"p":"A3","x":10,"b":0.8,"B":2.3,"g":-0.6,"G":-4.1},
{"p":"A3","x":12,"b":1.4,"B":2.9,"g":0.3,"G":-3.2},
{"p":"A3","x":14,"b":3,"B":4.5,"g":1.3,"G":-2.2},
{"p":"A3","x":16,"b":4.8,"B":6.3,"g":2.3,"G":-1.2},
{"p":"A3","x":18,"b":6.3,"B":7.8,"g":3.2,"G":-0.3},
{"p":"A3","x":20,"b":7.3,"B":8.8,"g":4,"G":0.5},
{"p":"A3","x":22,"b":8.1,"B":9.6,"g":4.8,"G":1.3},
{"p":"A3","x":24,"b":8.9,"B":10.4,"g":5.6,"G":2.1},
{"p":"A3","x":26,"b":9.6,"B":11.1,"g":6.4,"G":2.9},
{"p":"A3","x":28,"b":10.4,"B":11.9,"g":7.2,"G":3.7},
{"p":"A3","x":30,"b":11.1,"B":12.6,"g":8,"G":4.5},
{"p":"A3","x":32,"b":11.8,"B":13.3,"g":8.8,"G":5.3},
{"p":"A3","x":34,"b":12.4,"B":13.9,"g":9.6,"G":6.1},
{"p":"A3","x":36,"b":13,"B":14.5,"g":10.4,"G":6.9},
{"p":"A3","x":38,"b":13.6,"B":15.1,"g":11.2,"G":7.7},
{"p":"A3","x":40,"b":14.3,"B":15.8,"g":12,"G":8.5},
{"p":"A3","x":42,"b":15,"B":16.5,"g":12.8,"G":9.3},
{"p":"A3","x":44,"b":15.6,"B":17.1,"g":13.6,"G":10.1},
{"p":"A3","x":46,"b":15.9,"B":17.4,"g":14.4,"G":10.9},
{"p":"A3","x":48,"b":16,"B":17.5,"g":15.2,"G":11.7},
{"p":"A3","x":50,"b":15.8,"B":17.3,"g":15.8,"G":12.3},
{"p":"A3","x":52,"b":15,"B":16.5,"g":16,"G":12.5},
{"p":"A3","x":54,"b":13.8,"B":15.3,"g":15.6,"G":12.1},
{"p":"A3","x":56,"b":11.5,"B":13,"g":14.3,"G":10.8},
{"p":"A3","x":58,"b":8,"B":9.5,"g":12,"G":8.5},
{"p":"A3","x":60,"b":3.8,"B":5.3,"g":8.8,"G":5.3},
{"p":"A3","x":62,"b":-0.6,"B":0.9,"g":4.6,"G":1.1},
{"p":"A3","x":64,"b":-5,"B":-3.5,"g":0,"G":-3.5},
{"p":"A3","x":66,"b":-9,"B":-7.5,"g":-4.8,"G":-8.3},
{"p":"A3","x":68,"b":-11.2,"B":-9.7,"g":-9.5,"G":-13},
{"p":"A3","x":70,"b":-9.8,"B":-8.3,"g":-12.8,"G":-16.3},
{"p":"A3","x":72,"b":-6.3,"B":-4.8,"g":-11.5,"G":-15},
{"p":"A3","x":74,"b":-3,"B":-1.5,"g":-7.8,"G":-11.3},
{"p":"A3","x":76,"b":0.3,"B":1.8,"g":-4,"G":-7.5},
{"p":"A3","x":78,"b":2.5,"B":4,"g":-0.8,"G":-4.3},
{"p":"A3","x":80,"b":4,"B":5.5,"g":1.8,"G":-1.7},
{"p":"A3","x":82,"b":5.2,"B":6.7,"g":3.6,"G":0.1},
{"p":"A3","x":84,"b":6,"B":7.5,"g":4.9,"G":1.4},
{"p":"A3","x":86,"b":6.5,"B":8,"g":5.7,"G":2.2},
{"p":"A3","x":88,"b":6.7,"B":8.2,"g":6,"G":2.5},
{"p":"A3","x":90,"b":6.3,"B":7.8,"g":5.8,"G":2.3},
{"p":"A3","x":92,"b":5.4,"B":6.9,"g":5,"G":1.5},
{"p":"A3","x":94,"b":4.4,"B":5.9,"g":4,"G":0.5},
{"p":"A3","x":96,"b":3.3,"B":4.8,"g":3,"G":-0.5},
{"p":"A3","x":98,"b":2.3,"B":3.8,"g":2,"G":-1.5},
{"p":"A3","x":100,"b":1.3,"B":2.8,"g":1,"G":-2.5}
]
},
"title":{"text":"Angular displacement (degrees)","orient":"left","anchor":"middle","font":"Liberation Serif","fontSize":14,"fontWeight":"normal","color":"#111","offset":4},
"vconcat":[{
"title":{"text":"Stride (%)","orient":"bottom","anchor":"middle","font":"Liberation Sans","fontSize":12.5,"fontWeight":"normal","color":"#111","offset":6},
"columns":4,
"spacing":{"row":32.5,"column":36.6},
"bounds":"flush",
"concat":[
{"width":119,"height":100,"title":{"text":"Healthy Subject","fontWeight":"normal","font":"Liberation Serif","fontSize":11,"offset":0},
"encoding":{"x":{"field":"x","type":"quantitative","scale":{"domain":[0,100]},"axis":{"values":[0,20,40,60,80,100],"tickCount":10,"labels":false,"title":null}}},
"layer":[
{"data":{"name":"d"},"transform":[{"filter":"datum.p=='H0'"}],"layer":[
{"mark":{"type":"rule","color":"#d0d0d0","strokeWidth":1},"encoding":{"y":{"field":"g","type":"quantitative","scale":{"domain":[-20,60]},"axis":{"values":[-20,0,20,40,60],"tickCount":10,"labelOverlap":false,"title":"Extension / Flexion"}},"y2":{"field":"G"}}},
{"mark":{"type":"line","color":"#b3b3b3","strokeWidth":1.5},"encoding":{"y":{"field":"g","type":"quantitative"}}},
{"mark":{"type":"rule","color":"#2a2a2a","strokeWidth":0.8},"encoding":{"y":{"field":"b","type":"quantitative"},"y2":{"field":"B"}}},
{"mark":{"type":"line","color":"#000000","strokeWidth":1.2},"encoding":{"y":{"field":"b","type":"quantitative"}}}]},
{"data":{"name":"ann"},"transform":[{"filter":"datum.p=='H0'"}],"layer":[
{"mark":{"type":"rule","color":"#a0a0a0","strokeDash":[1.5,1.5],"strokeWidth":1},"encoding":{"x":{"field":"xd","type":"quantitative"},"x2":{"field":"xa"},"y":{"field":"yd","type":"quantitative"}}},
{"mark":{"type":"rule","color":"#707070","strokeWidth":1},"encoding":{"x":{"field":"xa","type":"quantitative"},"y":{"field":"top","type":"quantitative"},"y2":{"field":"bot"}}},
{"mark":{"type":"point","shape":"M-1,1.4L0,0L1,1.4","filled":false,"size":20,"color":"#707070","opacity":1,"strokeWidth":1},"encoding":{"x":{"field":"xa","type":"quantitative"},"y":{"field":"top","type":"quantitative"}}},
{"mark":{"type":"point","shape":"M-1,-1.4L0,0L1,-1.4","filled":false,"size":20,"color":"#707070","opacity":1,"strokeWidth":1},"encoding":{"x":{"field":"xa","type":"quantitative"},"y":{"field":"bot","type":"quantitative"}}}]},
{"data":{"name":"lab"},"transform":[{"filter":"datum.p=='H0' && datum.f=='s'"}],"mark":{"type":"text","align":"left","baseline":"middle","font":"Liberation Sans","fontSize":10.5,"color":"#111"},"encoding":{"x":{"field":"lx","type":"quantitative"},"y":{"field":"ly","type":"quantitative"},"text":{"field":"t","type":"nominal"}}},
{"data":{"name":"lab"},"transform":[{"filter":"datum.p=='H0' && datum.f=='r'"}],"mark":{"type":"text","align":"left","baseline":"middle","font":"Liberation Serif","fontSize":10,"color":"#111"},"encoding":{"x":{"field":"lx","type":"quantitative"},"y":{"field":"ly","type":"quantitative"},"text":{"field":"t","type":"nominal"}}}
]},
{"width":119,"height":100,"title":{"text":"Cobb angle < 20°","fontWeight":"normal","font":"Liberation Serif","fontSize":11,"offset":0},
"encoding":{"x":{"field":"x","type":"quantitative","scale":{"domain":[0,100]},"axis":{"values":[0,20,40,60,80,100],"tickCount":10,"labels":false,"title":null}}},
"layer":[
{"data":{"name":"d"},"transform":[{"filter":"datum.p=='H1'"}],"layer":[
{"mark":{"type":"rule","color":"#d0d0d0","strokeWidth":1},"encoding":{"y":{"field":"g","type":"quantitative","scale":{"domain":[-20,60]},"axis":{"values":[-20,0,20,40,60],"tickCount":10,"labelOverlap":false,"title":null}},"y2":{"field":"G"}}},
{"mark":{"type":"line","color":"#b3b3b3","strokeWidth":1.5},"encoding":{"y":{"field":"g","type":"quantitative"}}},
{"mark":{"type":"rule","color":"#2a2a2a","strokeWidth":0.8},"encoding":{"y":{"field":"b","type":"quantitative"},"y2":{"field":"B"}}},
{"mark":{"type":"line","color":"#000000","strokeWidth":1.2},"encoding":{"y":{"field":"b","type":"quantitative"}}}]}
]},
{"width":119,"height":100,"title":{"text":"Cobb angle [20-40°]","fontWeight":"normal","font":"Liberation Serif","fontSize":11,"offset":0},
"encoding":{"x":{"field":"x","type":"quantitative","scale":{"domain":[0,100]},"axis":{"values":[0,20,40,60,80,100],"tickCount":10,"labels":false,"title":null}}},
"layer":[
{"data":{"name":"d"},"transform":[{"filter":"datum.p=='H2'"}],"layer":[
{"mark":{"type":"rule","color":"#d0d0d0","strokeWidth":1},"encoding":{"y":{"field":"g","type":"quantitative","scale":{"domain":[-20,60]},"axis":{"values":[-20,0,20,40,60],"tickCount":10,"labelOverlap":false,"title":null}},"y2":{"field":"G"}}},
{"mark":{"type":"line","color":"#b3b3b3","strokeWidth":1.5},"encoding":{"y":{"field":"g","type":"quantitative"}}},
{"mark":{"type":"rule","color":"#2a2a2a","strokeWidth":0.8},"encoding":{"y":{"field":"b","type":"quantitative"},"y2":{"field":"B"}}},
{"mark":{"type":"line","color":"#000000","strokeWidth":1.2},"encoding":{"y":{"field":"b","type":"quantitative"}}}]}
]},
{"width":119,"height":100,"title":{"text":"Cobb angle >40°","fontWeight":"normal","font":"Liberation Serif","fontSize":11,"offset":0},
"encoding":{"x":{"field":"x","type":"quantitative","scale":{"domain":[0,100]},"axis":{"values":[0,20,40,60,80,100],"tickCount":10,"labels":false,"title":null}}},
"layer":[
{"data":{"name":"d"},"transform":[{"filter":"datum.p=='H3'"}],"layer":[
{"mark":{"type":"rule","color":"#d0d0d0","strokeWidth":1},"encoding":{"y":{"field":"g","type":"quantitative","scale":{"domain":[-20,60]},"axis":{"values":[-20,0,20,40,60],"tickCount":10,"labelOverlap":false,"title":null}},"y2":{"field":"G"}}},
{"mark":{"type":"line","color":"#b3b3b3","strokeWidth":1.5},"encoding":{"y":{"field":"g","type":"quantitative"}}},
{"mark":{"type":"rule","color":"#2a2a2a","strokeWidth":0.8},"encoding":{"y":{"field":"b","type":"quantitative"},"y2":{"field":"B"}}},
{"mark":{"type":"line","color":"#000000","strokeWidth":1.2},"encoding":{"y":{"field":"b","type":"quantitative"}}}]},
{"data":{"name":"ann"},"transform":[{"filter":"datum.p=='H3'"}],"layer":[
{"mark":{"type":"rule","color":"#a0a0a0","strokeDash":[1.5,1.5],"strokeWidth":1},"encoding":{"x":{"field":"xd","type":"quantitative"},"x2":{"field":"xa"},"y":{"field":"yd","type":"quantitative"}}},
{"mark":{"type":"rule","color":"#707070","strokeWidth":1},"encoding":{"x":{"field":"xa","type":"quantitative"},"y":{"field":"top","type":"quantitative"},"y2":{"field":"bot"}}},
{"mark":{"type":"point","shape":"M-1,1.4L0,0L1,1.4","filled":false,"size":20,"color":"#707070","opacity":1,"strokeWidth":1},"encoding":{"x":{"field":"xa","type":"quantitative"},"y":{"field":"top","type":"quantitative"}}},
{"mark":{"type":"point","shape":"M-1,-1.4L0,0L1,-1.4","filled":false,"size":20,"color":"#707070","opacity":1,"strokeWidth":1},"encoding":{"x":{"field":"xa","type":"quantitative"},"y":{"field":"bot","type":"quantitative"}}}]}
]},
{"width":119,"height":100,
"encoding":{"x":{"field":"x","type":"quantitative","scale":{"domain":[0,100]},"axis":{"values":[0,20,40,60,80,100],"tickCount":10,"labels":false,"title":null}}},
"layer":[
{"data":{"name":"d"},"transform":[{"filter":"datum.p=='K0'"}],"layer":[
{"mark":{"type":"rule","color":"#d0d0d0","strokeWidth":1},"encoding":{"y":{"field":"g","type":"quantitative","scale":{"domain":[-10,70]},"axis":{"values":[0,20,40,60],"tickCount":10,"labelOverlap":false,"title":"Extension / Flexion"}},"y2":{"field":"G"}}},
{"mark":{"type":"line","color":"#b3b3b3","strokeWidth":1.5},"encoding":{"y":{"field":"g","type":"quantitative"}}},
{"mark":{"type":"rule","color":"#2a2a2a","strokeWidth":0.8},"encoding":{"y":{"field":"b","type":"quantitative"},"y2":{"field":"B"}}},
{"mark":{"type":"line","color":"#000000","strokeWidth":1.2},"encoding":{"y":{"field":"b","type":"quantitative"}}}]},
{"data":{"name":"ann"},"transform":[{"filter":"datum.p=='K0'"}],"layer":[
{"mark":{"type":"rule","color":"#a0a0a0","strokeDash":[1.5,1.5],"strokeWidth":1},"encoding":{"x":{"field":"xd","type":"quantitative"},"x2":{"field":"xa"},"y":{"field":"yd","type":"quantitative"}}},
{"mark":{"type":"rule","color":"#707070","strokeWidth":1},"encoding":{"x":{"field":"xa","type":"quantitative"},"y":{"field":"top","type":"quantitative"},"y2":{"field":"bot"}}},
{"mark":{"type":"point","shape":"M-1,1.4L0,0L1,1.4","filled":false,"size":20,"color":"#707070","opacity":1,"strokeWidth":1},"encoding":{"x":{"field":"xa","type":"quantitative"},"y":{"field":"top","type":"quantitative"}}},
{"mark":{"type":"point","shape":"M-1,-1.4L0,0L1,-1.4","filled":false,"size":20,"color":"#707070","opacity":1,"strokeWidth":1},"encoding":{"x":{"field":"xa","type":"quantitative"},"y":{"field":"bot","type":"quantitative"}}}]},
{"data":{"name":"lab"},"transform":[{"filter":"datum.p=='K0'"}],"mark":{"type":"text","align":"left","baseline":"middle","font":"Liberation Sans","fontSize":10.5,"color":"#111"},"encoding":{"x":{"field":"lx","type":"quantitative"},"y":{"field":"ly","type":"quantitative"},"text":{"field":"t","type":"nominal"}}}
]},
{"width":119,"height":100,
"encoding":{"x":{"field":"x","type":"quantitative","scale":{"domain":[0,100]},"axis":{"values":[0,20,40,60,80,100],"tickCount":10,"labels":false,"title":null}}},
"layer":[
{"data":{"name":"d"},"transform":[{"filter":"datum.p=='K1'"}],"layer":[
{"mark":{"type":"rule","color":"#d0d0d0","strokeWidth":1},"encoding":{"y":{"field":"g","type":"quantitative","scale":{"domain":[-10,70]},"axis":{"values":[0,20,40,60],"tickCount":10,"labelOverlap":false,"title":null}},"y2":{"field":"G"}}},
{"mark":{"type":"line","color":"#b3b3b3","strokeWidth":1.5},"encoding":{"y":{"field":"g","type":"quantitative"}}},
{"mark":{"type":"rule","color":"#2a2a2a","strokeWidth":0.8},"encoding":{"y":{"field":"b","type":"quantitative"},"y2":{"field":"B"}}},
{"mark":{"type":"line","color":"#000000","strokeWidth":1.2},"encoding":{"y":{"field":"b","type":"quantitative"}}}]}
]},
{"width":119,"height":100,
"encoding":{"x":{"field":"x","type":"quantitative","scale":{"domain":[0,100]},"axis":{"values":[0,20,40,60,80,100],"tickCount":10,"labels":false,"title":null}}},
"layer":[
{"data":{"name":"d"},"transform":[{"filter":"datum.p=='K2'"}],"layer":[
{"mark":{"type":"rule","color":"#d0d0d0","strokeWidth":1},"encoding":{"y":{"field":"g","type":"quantitative","scale":{"domain":[-10,70]},"axis":{"values":[0,20,40,60],"tickCount":10,"labelOverlap":false,"title":null}},"y2":{"field":"G"}}},
{"mark":{"type":"line","color":"#b3b3b3","strokeWidth":1.5},"encoding":{"y":{"field":"g","type":"quantitative"}}},
{"mark":{"type":"rule","color":"#2a2a2a","strokeWidth":0.8},"encoding":{"y":{"field":"b","type":"quantitative"},"y2":{"field":"B"}}},
{"mark":{"type":"line","color":"#000000","strokeWidth":1.2},"encoding":{"y":{"field":"b","type":"quantitative"}}}]}
]},
{"width":119,"height":100,
"encoding":{"x":{"field":"x","type":"quantitative","scale":{"domain":[0,100]},"axis":{"values":[0,20,40,60,80,100],"tickCount":10,"labels":false,"title":null}}},
"layer":[
{"data":{"name":"d"},"transform":[{"filter":"datum.p=='K3'"}],"layer":[
{"mark":{"type":"rule","color":"#d0d0d0","strokeWidth":1},"encoding":{"y":{"field":"g","type":"quantitative","scale":{"domain":[-10,70]},"axis":{"values":[0,20,40,60],"tickCount":10,"labelOverlap":false,"title":null}},"y2":{"field":"G"}}},
{"mark":{"type":"line","color":"#b3b3b3","strokeWidth":1.5},"encoding":{"y":{"field":"g","type":"quantitative"}}},
{"mark":{"type":"rule","color":"#2a2a2a","strokeWidth":0.8},"encoding":{"y":{"field":"b","type":"quantitative"},"y2":{"field":"B"}}},
{"mark":{"type":"line","color":"#000000","strokeWidth":1.2},"encoding":{"y":{"field":"b","type":"quantitative"}}}]},
{"data":{"name":"ann"},"transform":[{"filter":"datum.p=='K3'"}],"layer":[
{"mark":{"type":"rule","color":"#a0a0a0","strokeDash":[1.5,1.5],"strokeWidth":1},"encoding":{"x":{"field":"xd","type":"quantitative"},"x2":{"field":"xa"},"y":{"field":"yd","type":"quantitative"}}},
{"mark":{"type":"rule","color":"#707070","strokeWidth":1},"encoding":{"x":{"field":"xa","type":"quantitative"},"y":{"field":"top","type":"quantitative"},"y2":{"field":"bot"}}},
{"mark":{"type":"point","shape":"M-1,1.4L0,0L1,1.4","filled":false,"size":20,"color":"#707070","opacity":1,"strokeWidth":1},"encoding":{"x":{"field":"xa","type":"quantitative"},"y":{"field":"top","type":"quantitative"}}},
{"mark":{"type":"point","shape":"M-1,-1.4L0,0L1,-1.4","filled":false,"size":20,"color":"#707070","opacity":1,"strokeWidth":1},"encoding":{"x":{"field":"xa","type":"quantitative"},"y":{"field":"bot","type":"quantitative"}}}]}
]},
{"width":119,"height":100,
"encoding":{"x":{"field":"x","type":"quantitative","scale":{"domain":[0,100]},"axis":{"values":[0,20,40,60,80,100],"tickCount":10,"labelOverlap":false,"title":null}}},
"layer":[
{"data":{"name":"d"},"transform":[{"filter":"datum.p=='A0'"}],"layer":[
{"mark":{"type":"rule","color":"#d0d0d0","strokeWidth":1},"encoding":{"y":{"field":"g","type":"quantitative","scale":{"domain":[-40,40]},"axis":{"values":[-40,-20,0,20,40],"tickCount":10,"labelOverlap":false,"title":"Extension / Flexion"}},"y2":{"field":"G"}}},
{"mark":{"type":"line","color":"#b3b3b3","strokeWidth":1.5},"encoding":{"y":{"field":"g","type":"quantitative"}}},
{"mark":{"type":"rule","color":"#2a2a2a","strokeWidth":0.8},"encoding":{"y":{"field":"b","type":"quantitative"},"y2":{"field":"B"}}},
{"mark":{"type":"line","color":"#000000","strokeWidth":1.2},"encoding":{"y":{"field":"b","type":"quantitative"}}}]},
{"data":{"name":"ann"},"transform":[{"filter":"datum.p=='A0'"}],"layer":[
{"mark":{"type":"rule","color":"#a0a0a0","strokeDash":[1.5,1.5],"strokeWidth":1},"encoding":{"x":{"field":"xd","type":"quantitative"},"x2":{"field":"xa"},"y":{"field":"yd","type":"quantitative"}}},
{"mark":{"type":"rule","color":"#707070","strokeWidth":1},"encoding":{"x":{"field":"xa","type":"quantitative"},"y":{"field":"top","type":"quantitative"},"y2":{"field":"bot"}}},
{"mark":{"type":"point","shape":"M-1,1.4L0,0L1,1.4","filled":false,"size":20,"color":"#707070","opacity":1,"strokeWidth":1},"encoding":{"x":{"field":"xa","type":"quantitative"},"y":{"field":"top","type":"quantitative"}}},
{"mark":{"type":"point","shape":"M-1,-1.4L0,0L1,-1.4","filled":false,"size":20,"color":"#707070","opacity":1,"strokeWidth":1},"encoding":{"x":{"field":"xa","type":"quantitative"},"y":{"field":"bot","type":"quantitative"}}}]},
{"data":{"name":"lab"},"transform":[{"filter":"datum.p=='A0'"}],"mark":{"type":"text","align":"left","baseline":"middle","font":"Liberation Sans","fontSize":10.5,"color":"#111"},"encoding":{"x":{"field":"lx","type":"quantitative"},"y":{"field":"ly","type":"quantitative"},"text":{"field":"t","type":"nominal"}}}
]},
{"width":119,"height":100,
"encoding":{"x":{"field":"x","type":"quantitative","scale":{"domain":[0,100]},"axis":{"values":[0,20,40,60,80,100],"tickCount":10,"labelOverlap":false,"title":null}}},
"layer":[
{"data":{"name":"d"},"transform":[{"filter":"datum.p=='A1'"}],"layer":[
{"mark":{"type":"rule","color":"#d0d0d0","strokeWidth":1},"encoding":{"y":{"field":"g","type":"quantitative","scale":{"domain":[-40,40]},"axis":{"values":[-40,-20,0,20,40],"tickCount":10,"labelOverlap":false,"title":null}},"y2":{"field":"G"}}},
{"mark":{"type":"line","color":"#b3b3b3","strokeWidth":1.5},"encoding":{"y":{"field":"g","type":"quantitative"}}},
{"mark":{"type":"rule","color":"#2a2a2a","strokeWidth":0.8},"encoding":{"y":{"field":"b","type":"quantitative"},"y2":{"field":"B"}}},
{"mark":{"type":"line","color":"#000000","strokeWidth":1.2},"encoding":{"y":{"field":"b","type":"quantitative"}}}]}
]},
{"width":119,"height":100,
"encoding":{"x":{"field":"x","type":"quantitative","scale":{"domain":[0,100]},"axis":{"values":[0,20,40,60,80,100],"tickCount":10,"labelOverlap":false,"title":null}}},
"layer":[
{"data":{"name":"d"},"transform":[{"filter":"datum.p=='A2'"}],"layer":[
{"mark":{"type":"rule","color":"#d0d0d0","strokeWidth":1},"encoding":{"y":{"field":"g","type":"quantitative","scale":{"domain":[-40,40]},"axis":{"values":[-40,-20,0,20,40],"tickCount":10,"labelOverlap":false,"title":null}},"y2":{"field":"G"}}},
{"mark":{"type":"line","color":"#b3b3b3","strokeWidth":1.5},"encoding":{"y":{"field":"g","type":"quantitative"}}},
{"mark":{"type":"rule","color":"#2a2a2a","strokeWidth":0.8},"encoding":{"y":{"field":"b","type":"quantitative"},"y2":{"field":"B"}}},
{"mark":{"type":"line","color":"#000000","strokeWidth":1.2},"encoding":{"y":{"field":"b","type":"quantitative"}}}]}
]},
{"width":119,"height":100,
"encoding":{"x":{"field":"x","type":"quantitative","scale":{"domain":[0,100]},"axis":{"values":[0,20,40,60,80,100],"tickCount":10,"labelOverlap":false,"title":null}}},
"layer":[
{"data":{"name":"d"},"transform":[{"filter":"datum.p=='A3'"}],"layer":[
{"mark":{"type":"rule","color":"#d0d0d0","strokeWidth":1},"encoding":{"y":{"field":"g","type":"quantitative","scale":{"domain":[-40,40]},"axis":{"values":[-40,-20,0,20,40],"tickCount":10,"labelOverlap":false,"title":null}},"y2":{"field":"G"}}},
{"mark":{"type":"line","color":"#b3b3b3","strokeWidth":1.5},"encoding":{"y":{"field":"g","type":"quantitative"}}},
{"mark":{"type":"rule","color":"#2a2a2a","strokeWidth":0.8},"encoding":{"y":{"field":"b","type":"quantitative"},"y2":{"field":"B"}}},
{"mark":{"type":"line","color":"#000000","strokeWidth":1.2},"encoding":{"y":{"field":"b","type":"quantitative"}}}]},
{"data":{"name":"ann"},"transform":[{"filter":"datum.p=='A3'"}],"layer":[
{"mark":{"type":"rule","color":"#a0a0a0","strokeDash":[1.5,1.5],"strokeWidth":1},"encoding":{"x":{"field":"xd","type":"quantitative"},"x2":{"field":"xa"},"y":{"field":"yd","type":"quantitative"}}},
{"mark":{"type":"rule","color":"#707070","strokeWidth":1},"encoding":{"x":{"field":"xa","type":"quantitative"},"y":{"field":"top","type":"quantitative"},"y2":{"field":"bot"}}},
{"mark":{"type":"point","shape":"M-1,1.4L0,0L1,1.4","filled":false,"size":20,"color":"#707070","opacity":1,"strokeWidth":1},"encoding":{"x":{"field":"xa","type":"quantitative"},"y":{"field":"top","type":"quantitative"}}},
{"mark":{"type":"point","shape":"M-1,-1.4L0,0L1,-1.4","filled":false,"size":20,"color":"#707070","opacity":1,"strokeWidth":1},"encoding":{"x":{"field":"xa","type":"quantitative"},"y":{"field":"bot","type":"quantitative"}}}]}
]}
]}],
"config":{
"view":{"stroke":null},
"axis":{"grid":false,"labelOverlap":false,"domainColor":"#a0a0a0","tickColor":"#a0a0a0","tickSize":3,"labelFont":"Liberation Sans","labelFontSize":8.5,"labelColor":"#333333","labelPadding":2,"titleFont":"Liberation Sans","titleFontSize":9,"titleFontWeight":"normal","titleColor":"#333333","titlePadding":4},
"title":{"font":"Liberation Serif","fontSize":11,"fontWeight":"normal","color":"#111111","offset":0}
}
}
